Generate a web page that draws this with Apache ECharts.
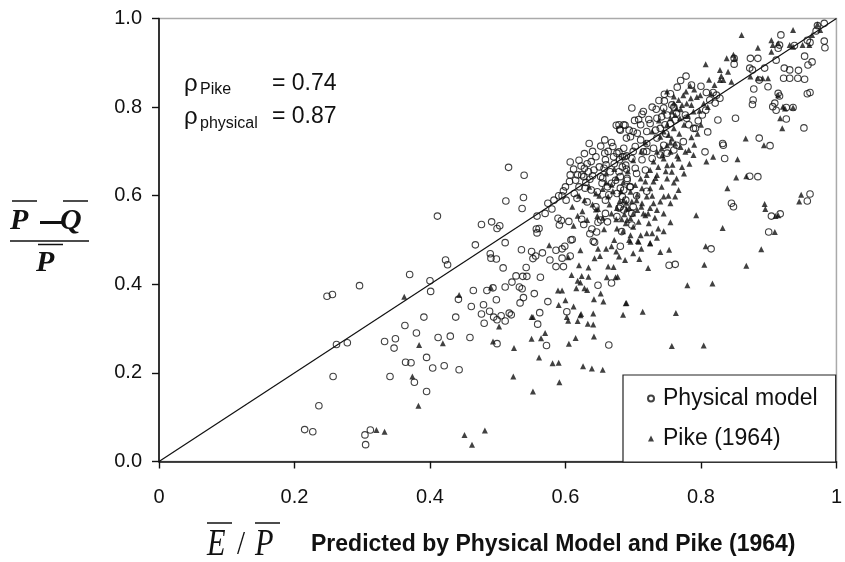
<!DOCTYPE html>
<html><head><meta charset="utf-8">
<script src="https://cdn.jsdelivr.net/npm/echarts@6/dist/echarts.min.js"></script>
<style>html,body{margin:0;padding:0;background:#fff}#c{width:845px;height:562px}</style>
</head><body><div id="c"></div>
<script>
// ---- data ----
const xTicks = [0, 0.2, 0.4, 0.6, 0.8, 1];
const yTicks = ['0.0', '0.2', '0.4', '0.6', '0.8', '1.0'];
const seriesNames = ['Physical model', 'Pike (1964)'];
const identityLine = [[0, 0], [1, 1]];
const rhoPike = '0.74';
const rhoPhysical = '0.87';

const physicalModel = [
[0.296,0.397],[0.248,0.373],[0.256,0.377],[0.262,0.264],[0.278,0.268],[0.333,0.271],[0.349,0.277],[0.347,0.256],
[0.257,0.192],[0.341,0.192],[0.236,0.126],[0.215,0.072],[0.227,0.067],[0.304,0.060],[0.305,0.038],[0.312,0.071],
[0.467,0.489],[0.511,0.494],[0.535,0.478],[0.550,0.474],[0.556,0.464],[0.552,0.458],[0.566,0.471],[0.489,0.469],
[0.490,0.459],[0.498,0.457],[0.423,0.455],[0.426,0.444],[0.370,0.422],[0.400,0.408],[0.401,0.384],[0.508,0.437],
[0.542,0.438],[0.537,0.418],[0.543,0.418],[0.527,0.419],[0.521,0.405],[0.563,0.416],[0.577,0.455],[0.586,0.477],
[0.595,0.480],[0.599,0.486],[0.608,0.500],[0.607,0.464],[0.595,0.459],[0.586,0.440],[0.597,0.440],[0.641,0.497],
[0.681,0.486],[0.648,0.398],[0.668,0.403],[0.464,0.386],[0.484,0.386],[0.493,0.392],[0.511,0.394],[0.532,0.394],
[0.536,0.390],[0.442,0.366],[0.461,0.350],[0.479,0.354],[0.498,0.365],[0.538,0.370],[0.533,0.358],[0.554,0.379],
[0.574,0.361],[0.391,0.326],[0.438,0.326],[0.363,0.307],[0.488,0.339],[0.476,0.333],[0.494,0.326],[0.499,0.320],
[0.505,0.329],[0.511,0.317],[0.517,0.335],[0.520,0.331],[0.480,0.312],[0.562,0.336],[0.559,0.310],[0.602,0.338],
[0.572,0.262],[0.664,0.263],[0.380,0.290],[0.412,0.280],[0.430,0.283],[0.459,0.280],[0.499,0.266],[0.364,0.224],
[0.372,0.223],[0.395,0.235],[0.404,0.211],[0.421,0.216],[0.443,0.207],[0.377,0.179],[0.395,0.158],
[0.815,0.480],[0.753,0.443],[0.762,0.445],
[0.411,0.554],[0.516,0.664],[0.539,0.646],[0.538,0.596],[0.536,0.571],[0.512,0.588],[0.476,0.535],[0.491,0.541],
[0.499,0.526],[0.503,0.532],[0.557,0.525],[0.561,0.526],[0.558,0.516],[0.558,0.554],[0.574,0.583],[0.583,0.590],
[0.597,0.611],[0.595,0.600],[0.606,0.632],[0.607,0.647],[0.607,0.676],[0.601,0.590],[0.635,0.718],[0.658,0.726],
[0.670,0.711],[0.675,0.759],[0.680,0.750],[0.688,0.759],[0.589,0.549],[0.594,0.544],[0.605,0.542],[0.591,0.534],
[0.624,0.547],[0.627,0.535],[0.610,0.501],[0.643,0.495],[0.636,0.514],[0.646,0.518],[0.639,0.525],[0.648,0.540],
[0.623,0.667],[0.628,0.662],[0.632,0.672],[0.638,0.677],[0.634,0.654],[0.624,0.647],[0.618,0.647],[0.627,0.643],
[0.636,0.637],[0.642,0.658],[0.650,0.665],[0.652,0.643],[0.658,0.696],[0.659,0.681],[0.657,0.662],[0.666,0.654],
[0.671,0.688],[0.676,0.696],[0.680,0.681],[0.684,0.665],[0.687,0.688],[0.681,0.643],[0.674,0.635],[0.668,0.628],
[0.662,0.620],[0.654,0.628],[0.647,0.609],[0.638,0.613],[0.629,0.617],[0.620,0.620],[0.613,0.605],[0.617,0.594],
[0.632,0.586],[0.645,0.575],[0.659,0.590],[0.664,0.602],[0.676,0.605],[0.686,0.613],[0.691,0.635],[0.689,0.590],
[0.681,0.575],[0.659,0.560],[0.652,0.545],[0.662,0.541],[0.676,0.553],[0.686,0.568],
[0.982,0.989],[0.972,0.984],[0.970,0.972],[0.982,0.949],[0.983,0.934],[0.957,0.951],[0.961,0.946],[0.938,0.939],
[0.918,0.963],[0.953,0.915],[0.964,0.902],[0.958,0.895],[0.916,0.940],[0.914,0.933],[0.884,0.910],[0.873,0.910],
[0.872,0.888],[0.849,0.897],[0.849,0.910],[0.911,0.906],[0.923,0.888],[0.931,0.884],[0.944,0.883],[0.943,0.865],
[0.953,0.863],[0.931,0.865],[0.922,0.865],[0.894,0.888],[0.886,0.861],[0.876,0.884],[0.899,0.846],[0.878,0.841],
[0.957,0.830],[0.961,0.833],[0.914,0.831],[0.916,0.825],[0.877,0.816],[0.876,0.806],[0.906,0.801],[0.911,0.793],
[0.936,0.799],[0.926,0.799],[0.909,0.809],[0.926,0.773],[0.952,0.753],[0.851,0.775],[0.825,0.771],[0.810,0.744],
[0.796,0.769],[0.792,0.752],[0.786,0.850],[0.800,0.847],[0.808,0.833],[0.818,0.833],[0.823,0.827],[0.828,0.820],
[0.813,0.816],[0.821,0.809],[0.807,0.793],[0.802,0.782],[0.832,0.718],[0.806,0.699],[0.835,0.684],[0.833,0.714],
[0.886,0.730],[0.902,0.713],[0.872,0.644],[0.884,0.643],[0.845,0.583],[0.848,0.575],[0.904,0.554],[0.917,0.559],
[0.961,0.604],[0.957,0.588],[0.900,0.518],
[0.746,0.829],[0.746,0.814],[0.745,0.798],[0.757,0.805],[0.734,0.795],[0.713,0.784],[0.698,0.798],[0.708,0.772],
[0.711,0.760],[0.723,0.772],[0.725,0.763],[0.735,0.775],[0.742,0.778],[0.750,0.782],[0.764,0.786],[0.777,0.782],
[0.779,0.775],[0.782,0.760],[0.789,0.752],[0.762,0.771],[0.755,0.763],[0.747,0.760],[0.740,0.752],[0.733,0.748],
[0.720,0.745],[0.706,0.741],[0.694,0.748],[0.679,0.760],[0.686,0.760],[0.681,0.748],[0.696,0.733],[0.711,0.726],
[0.720,0.718],[0.703,0.711],[0.686,0.707],[0.679,0.699],[0.684,0.688],[0.698,0.684],[0.713,0.681],[0.728,0.684],
[0.740,0.692],[0.750,0.696],[0.760,0.703],[0.764,0.714],[0.774,0.722],[0.745,0.714],[0.730,0.707],[0.715,0.699],
[0.689,0.669],[0.703,0.662],[0.718,0.658],[0.679,0.654],[0.691,0.639],[0.681,0.617],[0.696,0.620],[0.684,0.598],
[0.679,0.572],[0.698,0.560],[0.698,0.534],[0.683,0.519],
[0.612,0.660],[0.620,0.680],[0.628,0.695],[0.640,0.700],[0.645,0.688],[0.652,0.712],[0.663,0.700],[0.668,0.720],
[0.690,0.730],[0.700,0.745],[0.702,0.770],[0.715,0.790],[0.728,0.800],[0.738,0.815],[0.755,0.830],[0.765,0.845],
[0.770,0.860],[0.778,0.870],[0.760,0.800],[0.748,0.740],[0.735,0.730],[0.720,0.700],[0.700,0.700],[0.690,0.690],
[0.600,0.620],[0.590,0.600],[0.580,0.570],[0.570,0.560],[0.630,0.630],[0.640,0.645],[0.660,0.670],[0.672,0.672],
[0.690,0.660],[0.705,0.650],[0.695,0.620],[0.705,0.600],[0.720,0.610],[0.700,0.575],[0.655,0.640],[0.615,0.635]
];

const pike1964 = [
[0.321,0.071],[0.333,0.067],
[0.362,0.372],[0.443,0.376],[0.490,0.393],[0.576,0.488],[0.622,0.477],[0.604,0.461],[0.620,0.443],[0.609,0.421],
[0.624,0.419],[0.618,0.408],[0.622,0.404],[0.616,0.391],[0.628,0.391],[0.632,0.387],[0.634,0.417],[0.634,0.438],
[0.643,0.459],[0.651,0.464],[0.663,0.440],[0.671,0.439],[0.661,0.416],[0.674,0.416],[0.668,0.486],[0.679,0.463],
[0.688,0.455],[0.675,0.474],[0.589,0.386],[0.595,0.386],[0.600,0.364],[0.590,0.353],[0.612,0.350],[0.623,0.333],
[0.622,0.330],[0.641,0.334],[0.652,0.379],[0.656,0.361],[0.642,0.366],[0.618,0.317],[0.633,0.311],[0.641,0.309],
[0.604,0.318],[0.602,0.326],[0.689,0.357],[0.685,0.331],[0.550,0.326],[0.552,0.326],[0.502,0.305],[0.570,0.290],
[0.564,0.278],[0.550,0.277],[0.605,0.266],[0.615,0.279],[0.642,0.282],[0.384,0.263],[0.419,0.267],[0.493,0.271],
[0.524,0.256],[0.561,0.235],[0.581,0.222],[0.590,0.223],[0.626,0.215],[0.639,0.210],[0.655,0.207],[0.374,0.192],
[0.523,0.192],[0.591,0.179],[0.552,0.158],[0.383,0.126],[0.481,0.070],[0.451,0.060],[0.462,0.038],
[0.694,0.500],[0.707,0.498],[0.725,0.493],[0.740,0.473],[0.753,0.478],[0.807,0.486],[0.889,0.479],[0.709,0.457],
[0.722,0.437],[0.677,0.417],[0.805,0.444],[0.867,0.442],[0.780,0.398],[0.817,0.402],[0.690,0.358],[0.714,0.338],
[0.763,0.335],[0.757,0.261],[0.804,0.262],
[0.645,0.569],[0.647,0.554],[0.612,0.532],[0.657,0.524],[0.675,0.547],[0.683,0.547],[0.687,0.558],[0.676,0.572],
[0.690,0.584],[0.691,0.545],[0.676,0.526],[0.620,0.600],[0.635,0.620],[0.650,0.600],[0.660,0.630],[0.665,0.580],
[0.655,0.550],[0.670,0.610],[0.640,0.580],[0.625,0.565],[0.610,0.575],[0.672,0.660],[0.660,0.650],
[0.860,0.963],[0.936,0.974],[0.972,0.987],[0.976,0.974],[0.964,0.963],[0.960,0.940],[0.950,0.940],[0.936,0.936],
[0.931,0.940],[0.904,0.951],[0.906,0.940],[0.914,0.944],[0.884,0.934],[0.904,0.925],[0.848,0.918],[0.838,0.910],
[0.850,0.910],[0.807,0.897],[0.828,0.884],[0.828,0.861],[0.833,0.861],[0.845,0.857],[0.884,0.865],[0.891,0.865],
[0.899,0.865],[0.873,0.869],[0.784,0.848],[0.794,0.823],[0.799,0.827],[0.779,0.808],[0.786,0.805],[0.789,0.790],
[0.804,0.808],[0.914,0.827],[0.921,0.801],[0.924,0.797],[0.936,0.799],[0.917,0.775],[0.920,0.752],[0.866,0.729],
[0.893,0.714],[0.808,0.677],[0.818,0.688],[0.852,0.641],[0.867,0.644],[0.839,0.617],[0.854,0.682],[0.948,0.602],
[0.945,0.587],[0.894,0.581],[0.895,0.570],[0.910,0.554],[0.914,0.556],[0.793,0.556],[0.832,0.527],[0.909,0.518],
[0.750,0.835],[0.760,0.824],[0.767,0.816],[0.774,0.827],[0.772,0.805],[0.764,0.797],[0.757,0.790],[0.762,0.782],
[0.769,0.775],[0.755,0.775],[0.750,0.760],[0.760,0.752],[0.745,0.745],[0.752,0.737],[0.740,0.733],[0.757,0.729],
[0.762,0.718],[0.750,0.714],[0.742,0.707],[0.735,0.699],[0.755,0.699],[0.745,0.684],[0.730,0.677],[0.737,0.665],
[0.750,0.669],[0.725,0.658],[0.720,0.647],[0.735,0.647],[0.711,0.639],[0.718,0.632],[0.730,0.632],[0.703,0.624],
[0.713,0.617],[0.725,0.617],[0.696,0.609],[0.706,0.602],[0.720,0.598],[0.686,0.590],[0.698,0.587],[0.713,0.583],
[0.730,0.583],[0.740,0.587],[0.755,0.583],[0.767,0.613],[0.762,0.598],[0.745,0.598],[0.777,0.699],[0.782,0.703],
[0.789,0.692],[0.767,0.684],[0.772,0.665],[0.757,0.654],[0.764,0.639],[0.750,0.639],[0.694,0.572],[0.706,0.568],
[0.725,0.572],[0.735,0.568],[0.718,0.556],[0.696,0.549],[0.708,0.541],[0.723,0.538],[0.737,0.526],[0.689,0.538],
[0.696,0.511],[0.711,0.511],[0.720,0.515],[0.728,0.515],[0.696,0.496],[0.708,0.496],[0.725,0.492],
[0.700,0.530],[0.715,0.560],[0.705,0.590],[0.728,0.600],[0.742,0.620],[0.733,0.640],[0.748,0.655],[0.758,0.670],
[0.743,0.692],[0.765,0.690],[0.770,0.710],[0.755,0.720],[0.768,0.740],[0.775,0.760],[0.780,0.780],[0.770,0.795],
[0.785,0.820],[0.778,0.835],[0.790,0.840],[0.760,0.808],[0.745,0.792],[0.738,0.770],[0.728,0.745],[0.718,0.720],
[0.712,0.700],[0.700,0.680],[0.692,0.655],[0.685,0.630],[0.682,0.610],[0.690,0.570],[0.700,0.560],[0.712,0.575],
[0.722,0.560],[0.732,0.550],[0.745,0.560],[0.752,0.600],[0.760,0.630],[0.775,0.650],[0.783,0.672],[0.790,0.715],
[0.795,0.740],[0.800,0.760],[0.810,0.800],[0.815,0.830],[0.820,0.850],[0.830,0.870],[0.840,0.880],[0.812,0.862],
[0.798,0.792],[0.786,0.732],
[0.628,0.590],[0.645,0.605],[0.655,0.615],[0.668,0.625],[0.675,0.640],[0.663,0.598],[0.648,0.570],[0.632,0.545],
[0.618,0.555],[0.668,0.560],[0.680,0.588],[0.685,0.520],[0.672,0.500],[0.660,0.480],[0.648,0.480],[0.700,0.470],
[0.712,0.480],[0.735,0.505],[0.745,0.520],[0.755,0.540]
];

// ---- chart ----
const chart = echarts.init(document.getElementById('c'), null, {renderer: 'canvas'});
const ink = '#111';
const sans = '"Liberation Sans", Arial, Helvetica, sans-serif';
const serif = '"Liberation Serif", "Times New Roman", serif';
const mid = {verticalAlign: 'middle', textVerticalAlign: 'middle', fill: ink};

const option = {
  animation: false,
  backgroundColor: '#fff',
  grid: {left: 159, right: 4.4, top: 18.5, bottom: 100.5, show: true, borderColor: '#aaa', borderWidth: 1.5, backgroundColor: 'transparent'},
  xAxis: {
    type: 'value', min: 0, max: 1, interval: 0.2,
    axisLine: {lineStyle: {color: ink, width: 1.6}},
    axisTick: {show: true, length: 7, lineStyle: {color: ink, width: 1.4}},
    axisLabel: {color: ink, fontSize: 20, fontFamily: sans, margin: 26,
      formatter: v => { const t = xTicks.find(k => Math.abs(k - v) < 1e-9); return t === undefined ? '' : String(t); }},
    splitLine: {show: false}
  },
  yAxis: {
    type: 'value', min: 0, max: 1, interval: 0.2,
    axisLine: {lineStyle: {color: ink, width: 1.6}},
    axisTick: {show: true, length: 7, lineStyle: {color: ink, width: 1.4}},
    axisLabel: {color: ink, fontSize: 20, fontFamily: sans, margin: 17,
      formatter: v => yTicks[Math.round(v / 0.2)]},
    splitLine: {show: false}
  },
  legend: {
    orient: 'vertical', left: 623, top: 375,
    padding: [12, 18, 12, 24], itemGap: 17, itemWidth: 6, itemHeight: 6,
    backgroundColor: '#fff', borderColor: '#222', borderWidth: 1.2,
    textStyle: {fontSize: 23, fontFamily: sans, color: ink, lineHeight: 23, padding: [0, 0, 0, 4]},
    data: [
      {name: seriesNames[0], icon: 'circle'},
      {name: seriesNames[1], icon: 'triangle'}
    ]
  },
  graphic: [
    // correlation annotation
    {type: 'text', x: 184, y: 84, style: Object.assign({text: 'ρ', font: '24px ' + sans}, mid)},
    {type: 'text', x: 200, y: 89.5, style: Object.assign({text: 'Pike', font: '16px ' + sans}, mid)},
    {type: 'text', x: 272, y: 83.3, style: Object.assign({text: '= ' + rhoPike, font: '23px ' + sans}, mid)},
    {type: 'text', x: 184, y: 117, style: Object.assign({text: 'ρ', font: '24px ' + sans}, mid)},
    {type: 'text', x: 200, y: 124, style: Object.assign({text: 'physical', font: '16px ' + sans}, mid)},
    {type: 'text', x: 272, y: 116.7, style: Object.assign({text: '= ' + rhoPhysical, font: '23px ' + sans}, mid)},
    // x-axis title
    {type: 'text', x: 207, y: 545.5, scaleX: 0.82, style: Object.assign({text: 'E', font: 'italic 37px ' + serif}, mid)},
    {type: 'text', x: 237, y: 545.5, scaleX: 0.85, style: Object.assign({text: '/', font: '34px ' + serif}, mid)},
    {type: 'text', x: 255, y: 545.5, scaleX: 0.82, style: Object.assign({text: 'P', font: 'italic 37px ' + serif}, mid)},
    {type: 'line', shape: {x1: 207, y1: 523, x2: 232, y2: 523}, style: {stroke: ink, lineWidth: 1.5}},
    {type: 'line', shape: {x1: 255, y1: 523, x2: 280, y2: 523}, style: {stroke: ink, lineWidth: 1.5}},
    {type: 'text', x: 311, y: 545, style: Object.assign({text: 'Predicted by Physical Model and Pike (1964)', font: 'bold 23px "Liberation Sans Narrow", "Arial Narrow", ' + sans}, mid)},
    // y-axis title (fraction)
    {type: 'text', x: 10, y: 221, style: Object.assign({text: 'P', font: 'italic bold 30px ' + serif}, mid)},
    {type: 'rect', shape: {x: 40, y: 221, width: 23, height: 3}, style: {fill: ink}},
    {type: 'text', x: 60, y: 221, style: Object.assign({text: 'Q', font: 'italic bold 30px ' + serif}, mid)},
    {type: 'line', shape: {x1: 12, y1: 201, x2: 37, y2: 201}, style: {stroke: ink, lineWidth: 1.5}},
    {type: 'line', shape: {x1: 63, y1: 201, x2: 88, y2: 201}, style: {stroke: ink, lineWidth: 1.5}},
    {type: 'line', shape: {x1: 10, y1: 241, x2: 89, y2: 241}, style: {stroke: ink, lineWidth: 1.5}},
    {type: 'line', shape: {x1: 38, y1: 244.5, x2: 63, y2: 244.5}, style: {stroke: ink, lineWidth: 1.5}},
    {type: 'text', x: 36, y: 263, style: Object.assign({text: 'P', font: 'italic bold 30px ' + serif}, mid)}
  ],
  series: [
    {type: 'line', data: identityLine, symbol: 'none', silent: true, z: 1,
      lineStyle: {color: ink, width: 1.2}, legendHoverLink: false},
    {name: seriesNames[0], type: 'scatter', data: physicalModel, symbol: 'circle', symbolSize: 6.5, z: 2,
      itemStyle: {color: 'rgba(255,255,255,0)', borderColor: ink, borderWidth: 1.1}},
    {name: seriesNames[1], type: 'scatter', data: pike1964, symbol: 'triangle', symbolSize: 6, z: 3,
      itemStyle: {color: ink}}
  ]
};
chart.setOption(option);
</script>
</body></html>
